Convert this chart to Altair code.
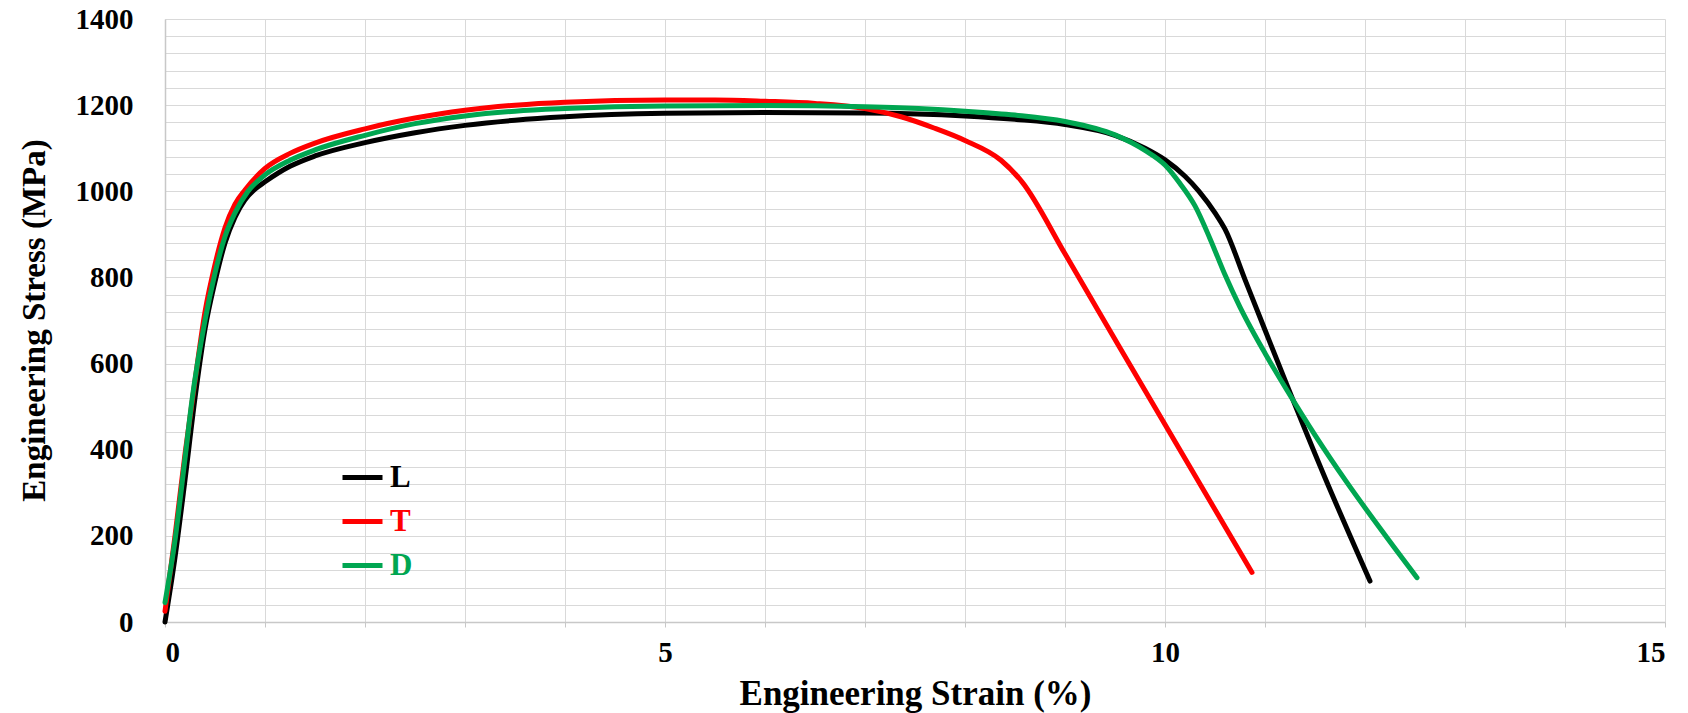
import altair as alt
import pandas as pd

# Engineering strain (%) and stress (MPa)
L_strain = [0.0, 0.1, 0.2, 0.3, 0.4, 0.5, 0.6, 0.7, 0.8, 0.9, 1.0, 1.25, 1.5, 2.0, 2.5, 3.0, 3.5, 4.0, 5.0, 6.0, 7.0, 8.0, 8.5, 9.0, 9.5, 9.8, 10.0, 10.2, 10.34, 10.5, 10.6, 10.8, 11.0, 11.22, 11.6, 12.05]
L_stress = [0, 150, 330, 520, 680, 790, 880, 940, 980, 1005, 1022, 1058, 1082, 1113, 1136, 1153, 1165, 1173, 1181, 1183, 1182, 1175, 1167, 1155, 1130, 1100, 1073, 1035, 1000, 950, 912, 795, 678, 550, 335, 95]

T_strain = [0.0, 0.1, 0.2, 0.3, 0.4, 0.5, 0.6, 0.7, 0.8, 1.0, 1.25, 1.5, 2.0, 2.5, 3.0, 3.5, 4.0, 5.0, 5.5, 6.0, 6.5, 7.0, 7.36, 7.69, 8.0, 8.36, 8.57, 9.0, 9.54, 10.87]
T_stress = [25, 200, 390, 560, 720, 830, 915, 970, 1003, 1053, 1088, 1112, 1145, 1170, 1188, 1200, 1207, 1212, 1212, 1209, 1204, 1192, 1173, 1147, 1118, 1072, 1022, 855, 640, 115]

D_strain = [0.0, 0.1, 0.2, 0.27, 0.4, 0.5, 0.6, 0.7, 0.83, 1.0, 1.25, 1.5, 2.0, 2.5, 3.0, 3.5, 4.0, 5.0, 6.0, 7.0, 8.0, 8.5, 9.0, 9.5, 9.8, 10.0, 10.15, 10.3, 10.45, 10.6, 10.75, 10.9, 11.0, 11.22, 11.5, 11.81, 12.2, 12.52]
D_stress = [45, 190, 380, 515, 700, 810, 895, 950, 1000, 1038, 1072, 1096, 1130, 1157, 1175, 1186, 1192, 1198, 1199, 1196, 1186, 1177, 1162, 1131, 1095, 1061, 1018, 966, 890, 806, 731, 665, 624, 538, 434, 327, 202, 103]

series_names = ["L", "T", "D"]
series_colors = ["#000000", "#FF0000", "#00A651"]
legend_y = [436, 480, 524]

x_ticks = list(range(0, 16))
y_ticks = list(range(0, 1401, 40))

FONT = "Liberation Serif"

frames = {
    "L": pd.DataFrame({"strain": L_strain, "stress": L_stress, "series": "L"}),
    "T": pd.DataFrame({"strain": T_strain, "stress": T_stress, "series": "T"}),
    "D": pd.DataFrame({"strain": D_strain, "stress": D_stress, "series": "D"}),
}

x_enc = alt.X(
    "strain:Q",
    scale=alt.Scale(domain=[0, 15], nice=False),
    axis=alt.Axis(
        title="Engineering Strain (%)",
        values=x_ticks,
        labelExpr="datum.value % 5 == 0 ? datum.label : ''",
        grid=True,
        gridColor="#d9d9d9",
        gridWidth=1,
        domainColor="#c8c8c8",
        domainWidth=1.5,
        ticks=True,
        tickSize=5,
        tickColor="#c8c8c8",
        labelFont=FONT,
        labelFontWeight="bold",
        labelFontSize=29,
        labelColor="#000000",
        labelPadding=11,
        titleFont=FONT,
        titleFontWeight="bold",
        titleFontSize=35,
        titleColor="#000000",
        titleBaseline="middle",
        titleY=71,
    ),
)

y_enc = alt.Y(
    "stress:Q",
    scale=alt.Scale(domain=[0, 1400], nice=False),
    axis=alt.Axis(
        title="Engineering Stress (MPa)",
        values=y_ticks,
        format="d",
        labelExpr="datum.value % 200 == 0 ? datum.label : ''",
        grid=True,
        gridColor="#d9d9d9",
        gridWidth=1,
        domainColor="#c8c8c8",
        domainWidth=1.5,
        ticks=False,
        labelFont=FONT,
        labelFontWeight="bold",
        labelFontSize=29,
        labelColor="#000000",
        labelPadding=32,
        titleFont=FONT,
        titleFontWeight="bold",
        titleFontSize=33,
        titleColor="#000000",
        titleBaseline="middle",
        titleX=-131,
        titleY=301,
    ),
)

layers = []
for name, col, ly in zip(series_names, series_colors, legend_y):
    layers.append(
        alt.Chart(frames[name])
        .mark_line(strokeWidth=5, strokeCap="round", strokeJoin="round", interpolate="monotone")
        .encode(
            x=x_enc,
            y=y_enc,
            color=alt.Color(
                "series:N",
                scale=alt.Scale(domain=[name], range=[col]),
                legend=alt.Legend(
                    title=None,
                    orient="none",
                    legendX=175,
                    legendY=ly,
                    symbolType="stroke",
                    symbolSize=1600,
                    symbolStrokeWidth=5,
                    labelFont=FONT,
                    labelFontWeight="bold",
                    labelFontSize=31,
                    labelColor=col,
                    labelOffset=5,
                    padding=0,
                ),
            ),
        )
    )

chart = (
    alt.layer(*layers)
    .resolve_scale(color="independent")
    .properties(
        width=1500,
        height=603,
        autosize=alt.AutoSizeParams(type="none"),
        padding={"left": 157, "top": 11, "right": 15, "bottom": 95},
        background="#ffffff",
    )
    .configure_view(stroke=None)
)

chart.save("out.html", embed_options={"renderer": "svg", "actions": False})
